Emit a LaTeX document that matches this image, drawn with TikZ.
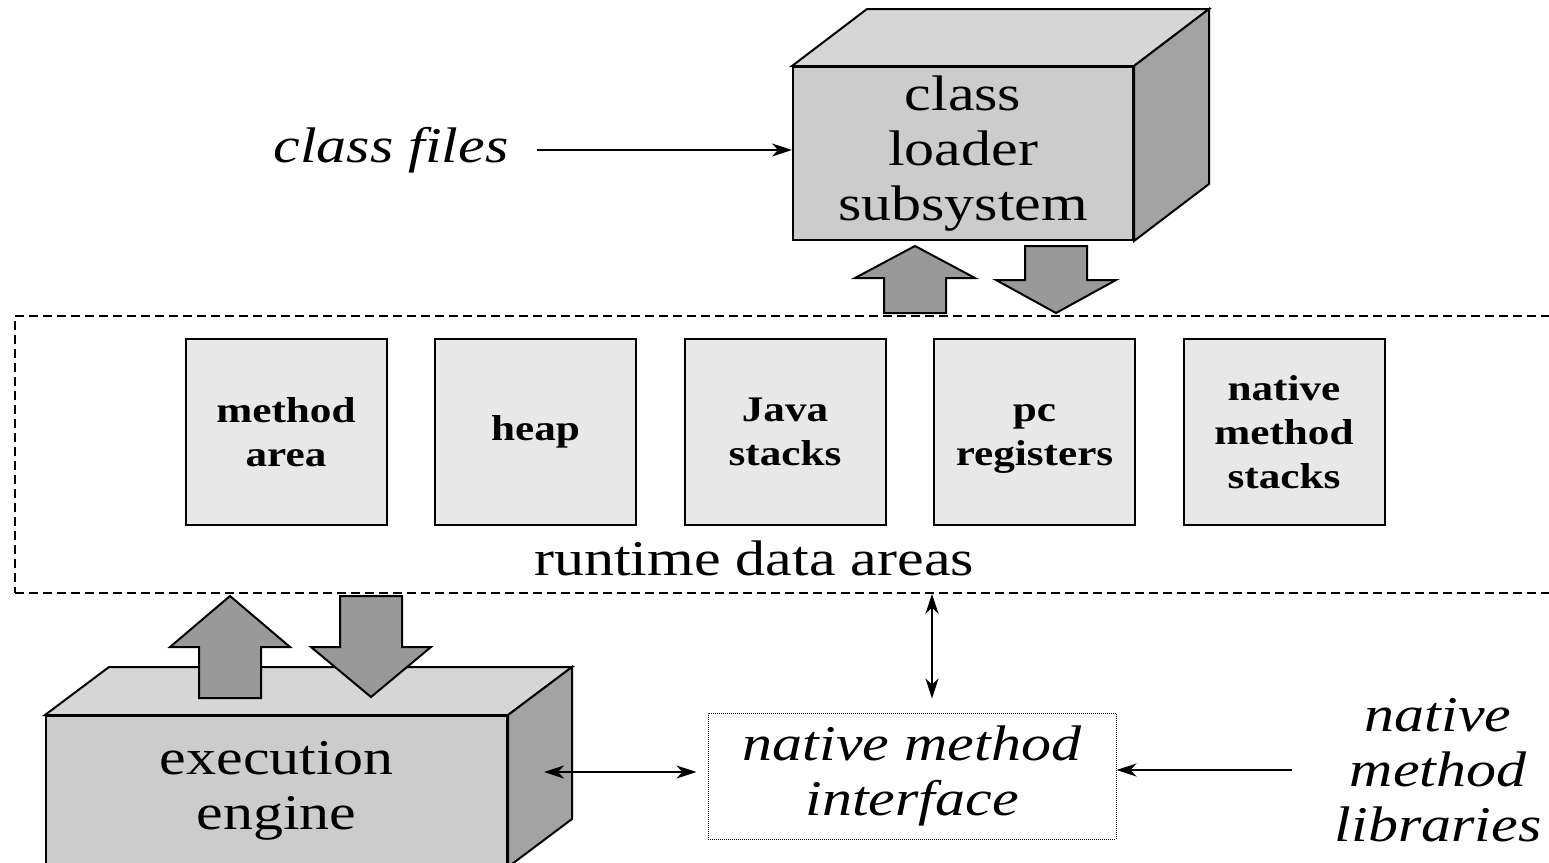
\documentclass[tikz,border=0pt]{standalone}
\usepackage{fontspec}
\setmainfont{Liberation Serif}[FakeStretch=1.2]
\usepackage{tikz}
\usetikzlibrary{positioning}
\usetikzlibrary{arrows.meta}
\usetikzlibrary{calc}
\definecolor{frontgray}{HTML}{CCCCCC}
\definecolor{topgray}{HTML}{D6D6D6}
\definecolor{sidegray}{HTML}{A3A3A3}
\definecolor{areagray}{HTML}{E8E8E8}
\definecolor{arrowgray}{HTML}{999999}
\tikzset{
    bigtext/.style={font=\fontsize{50}{55}\selectfont, align=center, inner sep=0pt},
    italtext/.style={font=\fontsize{50}{55}\selectfont\itshape, align=center, inner sep=0pt},
    boxfront/.style={draw, line width=2pt, fill=frontgray},
    faces/.style={draw, line width=2pt, line join=miter},
    areabox/.style={draw, line width=2pt, fill=areagray, minimum width=201pt, minimum height=186pt, align=center, inner sep=0pt, font=\fontsize{36}{44}\selectfont\bfseries},
    blockarr/.style={draw, line width=2pt, fill=arrowgray, line join=miter},
    arrowline/.style={line width=2pt, -{Stealth[length=20pt, width=13pt, inset=6pt]}},
    twoway/.style={line width=2pt, {Stealth[length=20pt, width=13pt, inset=6pt]}-{Stealth[length=20pt, width=13pt, inset=6pt]}}
}
% top and side of a box drawn behind its front node
\newcommand{\boxfaces}[3]{%
  \filldraw[faces, fill=topgray] (#1.north west) -- ++(#2,-#3) -- ($(#1.north east)+(#2,-#3)$) -- (#1.north east) -- cycle;
  \filldraw[faces, fill=sidegray] (#1.north east) -- ++(#2,-#3) -- ($(#1.south east)+(#2,-#3)$) -- (#1.south east) -- cycle;
}
% fat arrow from tail #1 to tip #2, head length #3
\newcommand{\blockarrow}[3]{%
  \path ($(#2)!#3!(#1)$) coordinate (hb);
  \filldraw[blockarr] ($(#1)!31pt!90:(#2)$) -- ($(hb)!31pt!90:(#2)$) -- ($(hb)!60pt!90:(#2)$) -- (#2)
    -- ($(hb)!60pt!-90:(#2)$) -- ($(hb)!31pt!-90:(#2)$) -- ($(#1)!31pt!-90:(#2)$) -- cycle;
}
\begin{document}
\begin{tikzpicture}[x=1pt, y=-1pt]
\useasboundingbox (0,0) rectangle (1549,862);
\clip (0,0) rectangle (1549,862);

\node[draw, line width=1.5pt, dash pattern=on 9pt off 5pt, minimum width=1560pt, minimum height=277pt] (rda) at (795,454.5) {};
\node[bigtext] (rdalabel) at (754,558) {runtime data areas};

\node[areabox] (meth) at (286,432) {method\\area};
\node[areabox, right=46.5pt of meth] (heap) {heap};
\node[areabox, right=46.5pt of heap] (jstk) {Java\\stacks};
\node[areabox, right=46.5pt of jstk] (pcreg) {\strut pc\\registers};
\node[areabox, right=46.5pt of pcreg] (nstk) {native\\method\\stacks};

\node[boxfront, bigtext, minimum width=340pt, minimum height=173pt] (cls) at (963,153.5) {class\\loader\\subsystem};
\boxfaces{cls}{75}{57}
\node[boxfront, bigtext, minimum width=461pt, minimum height=150pt] (exe) at (276.5,791) {execution\\engine};
\boxfaces{exe}{64}{48}

\node[draw, densely dotted, line width=1pt, italtext, minimum width=408pt, minimum height=126pt] (nmi) at (912,776) {native method\\interface};
\node[italtext] (cf) at (391,150) {class files};
\node[italtext] (lib) at (1438,770) {native\\method\\libraries};

\coordinate (clup1) at ($(cls.south)+(-48,72)$);
\coordinate (clup2) at ($(cls.south)+(-48,5)$);
\coordinate (cldn1) at ($(cls.south)+(93,5)$);
\coordinate (cldn2) at ($(cls.south)+(93,72)$);
\coordinate (exup1) at ($(exe.north)+(-46.5,-17)$);
\coordinate (exup2) at ($(exe.north)+(-46.5,-119)$);
\coordinate (exdn1) at ($(exe.north)+(94.5,-119)$);
\coordinate (exdn2) at ($(exe.north)+(94.5,-18)$);
\blockarrow{clup1}{clup2}{32pt}
\blockarrow{cldn1}{cldn2}{33pt}
\blockarrow{exup1}{exup2}{51pt}
\blockarrow{exdn1}{exdn2}{50pt}

\coordinate (exeside) at ($(exe.east)+(36,-19)$);
\coordinate (nmiup) at ($(nmi.north)+(20,0)$);
\draw[arrowline, shorten <=28pt] (cf.east) -- (cls.west |- cf.east);
\draw[twoway, shorten >=11pt] (exeside) -- (nmi.west |- exeside);
\draw[twoway, shorten >=14pt] (rda.south -| nmiup) -- (nmiup);
\draw[arrowline, shorten <=42pt] (lib.west) -- (nmi.east |- lib.west);

\end{tikzpicture}
\end{document}
